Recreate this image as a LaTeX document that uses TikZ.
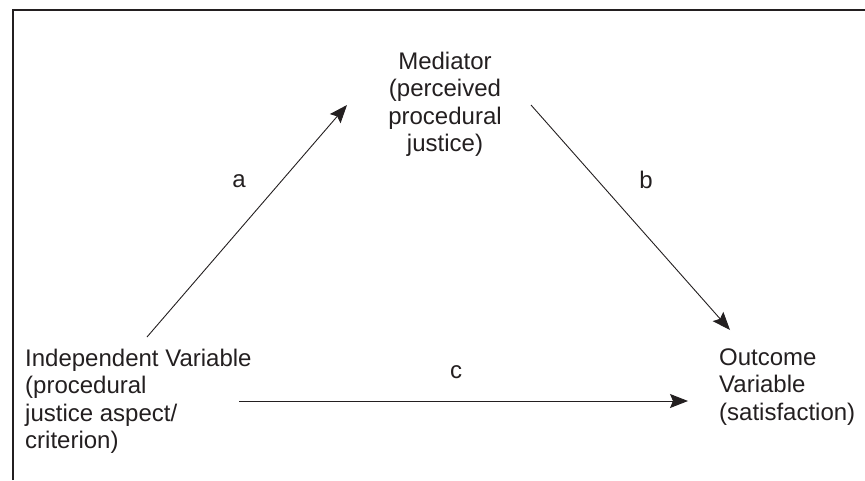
\documentclass[tikz,border=0pt]{standalone}
\usepackage{fontspec}
\setmainfont{Liberation Sans}
\usetikzlibrary{arrows.meta}
\definecolor{ink}{HTML}{231F20}
\begin{document}
\begin{tikzpicture}[x=1pt,y=-1pt,
  lbl/.style={inner sep=0pt,text=ink,font=\fontsize{24}{27.6}\selectfont},
  conn/.style={draw=ink,line width=0.9pt,-{Stealth[length=18pt,width=14pt,inset=3pt]}},
  frame/.style={draw=ink,line width=1.4pt}]
\useasboundingbox (0,0) rectangle (865,480);
\draw[frame] (13,480) -- (13,10) -- (865,10);
% anchor=base of a multi-line node is the baseline of its last line
\node[lbl,align=center,anchor=base] (med) at (445,151.8) {Mediator\\(perceived\\procedural\\justice)};
\node[lbl,align=left,anchor=base west] (iv) at (25,448.8) {Independent Variable\\(procedural\\justice aspect/\\criterion)};
\node[lbl,align=left,anchor=base west] (out) at (719,420.2) {Outcome\\Variable\\(satisfaction)};
\node[lbl,anchor=base] (la) at (239,187) {a};
\node[lbl,anchor=base] (lb) at (646,188) {b};
\node[lbl,anchor=base] (lc) at (456,378) {c};
\coordinate (a1) at (147,337);
\coordinate (a2) at (347,105);
\coordinate (b1) at (531,105);
\coordinate (b2) at (730,330);
\coordinate (c1) at (239,401);
\coordinate (c2) at (688,401);
\draw[conn] (a1) -- (a2);
\draw[conn] (b1) -- (b2);
\draw[conn] (c1) -- (c2);
\end{tikzpicture}
\end{document}
